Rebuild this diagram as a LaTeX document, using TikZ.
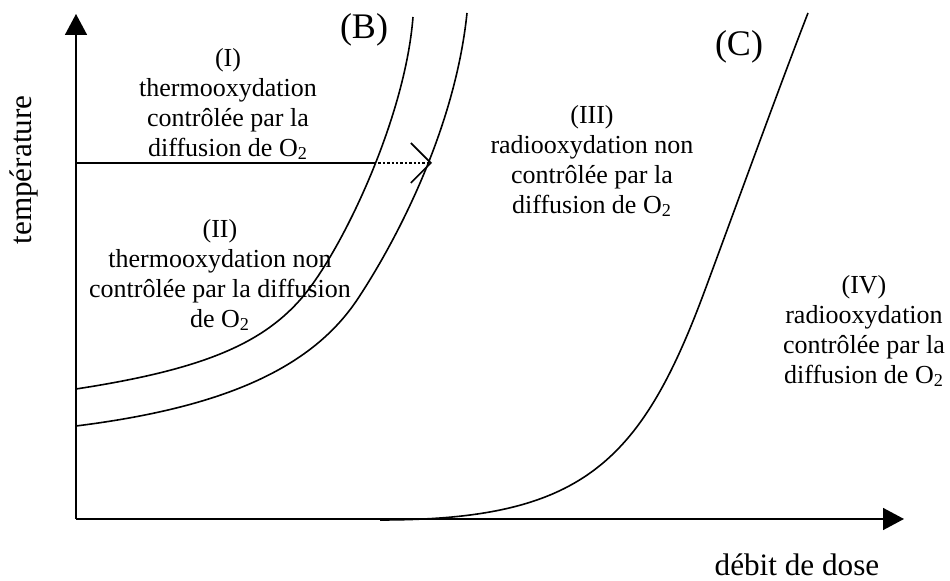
\documentclass[tikz,border=0pt]{standalone}
\usepackage{fontspec}
\setmainfont{Liberation Serif}
\usetikzlibrary{arrows.meta}
\begin{document}
\begin{tikzpicture}[x=0.5pt,y=-0.5pt,
  axis/.style={line width=0.8pt,-{Triangle[width=11pt,length=10.5pt]}},
  curve/.style={line width=0.8pt},
  region/.style={align=center,font=\fontsize{13}{15}\selectfont,inner sep=0pt},
  biglabel/.style={font=\fontsize{18}{20}\selectfont,inner sep=0pt},
  axlabel/.style={font=\fontsize{15.6}{18}\selectfont,inner sep=0pt}]
\useasboundingbox (0,0) rectangle (950,581);
% axes
\coordinate (O) at (76,519);
\coordinate (ytip) at (76,14);
\coordinate (xtip) at (904,519);
\draw[axis] (O) -- (ytip);
\draw[axis] (O) -- (xtip);
% horizontal line with dotted arrow
\coordinate (h0) at (76,163);
\coordinate (h1) at (374,163);
\coordinate (h2) at (432,163);
\draw[curve] (h0) -- (h1);
\draw[line width=0.8pt,dash pattern=on 1.2pt off 1pt,-{Straight Barb[length=10pt,width=20pt,line width=0.8pt]}] (h1) -- (h2);
% curve B (inner)
\draw[curve] (76,389) .. controls (200,370) and (260,345) .. (300,300)
  .. controls (340,255) and (405,120) .. (413,17);
% curve B (outer)
\draw[curve] (76,426) .. controls (220,408) and (310,370) .. (357,300)
  .. controls (395,243) and (455,130) .. (467,13);
% curve C
\draw[curve] (380,520) .. controls (580,520) and (640,465.5) .. (705,290)
  .. controls (735,209) and (780,85) .. (808,13);
% labels
\node[biglabel] (B) at (364,30) {(B)};
\node[biglabel] (C) at (739,47) {(C)};
\node[region] (r1) at (228,104) {(I)\\thermooxydation\\contrôlée par la\\diffusion de O\textsubscript{2}};
\node[region] (r2) at (220,275) {(II)\\thermooxydation non\\contrôlée par la diffusion\\de O\textsubscript{2}};
\node[region] (r3) at (592,161) {(III)\\radiooxydation non\\contrôlée par la\\diffusion de O\textsubscript{2}};
\node[region] (r4) at (864,331) {(IV)\\radiooxydation\\contrôlée par la\\diffusion de O\textsubscript{2}};
\node[axlabel,rotate=90] (ylab) at (24,170) {température};
\node[axlabel] (xlab) at (797,565) {débit de dose};
\end{tikzpicture}
\end{document}
